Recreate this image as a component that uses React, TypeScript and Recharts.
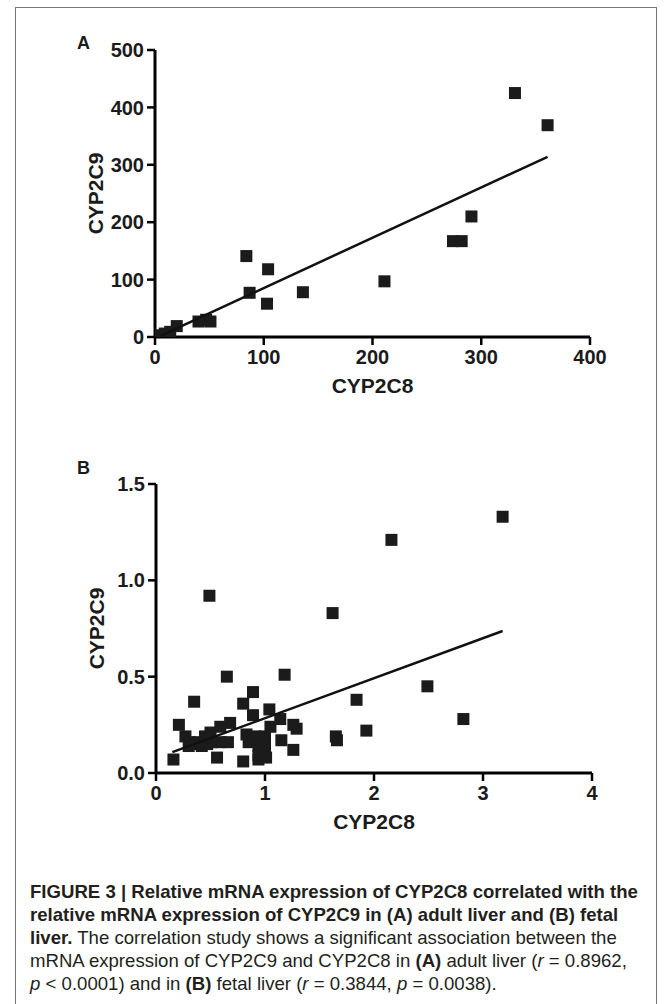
import React from "react";
import { ScatterChart, Scatter, XAxis, YAxis, Label } from "recharts";

// ── Data ─────────────────────────────────────────────────────

// A: adult liver
const adultCyp2c8 = [331, 361, 291, 274, 282, 211, 136, 84, 104, 87, 103, 40, 47, 51, 20, 14, 9, 5, 2];
const adultCyp2c9 = [425, 369, 210, 167, 167, 97, 78, 141, 118, 77, 58, 27, 30, 27, 19, 9, 6, 3, 1];
const adultFitX = [5, 361];
const adultFitY = [2, 314];
const adultXTicks = [0, 100, 200, 300, 400];
const adultYTicks = [0, 100, 200, 300, 400, 500];

// B: fetal liver
const fetalCyp2c8 = [
  3.18, 2.16, 0.49, 1.62, 1.18, 0.65, 2.49, 0.89, 0.35, 0.8,
  1.84, 2.82, 1.93, 1.65, 1.66, 0.21, 1.04, 0.89, 1.14, 1.26,
  1.29, 1.15, 1.26, 1.01, 0.94, 0.8, 0.56, 0.16, 0.68, 0.59,
  0.5, 0.66, 0.59, 0.83, 0.91, 1.0, 1.05, 0.94, 1.0, 0.94,
  0.27, 0.31, 0.36, 0.42, 0.47, 0.51, 0.39, 0.3, 0.45, 0.85,
];
const fetalCyp2c9 = [
  1.33, 1.21, 0.92, 0.83, 0.51, 0.5, 0.45, 0.42, 0.37, 0.36,
  0.38, 0.28, 0.22, 0.19, 0.17, 0.25, 0.33, 0.3, 0.28, 0.25,
  0.23, 0.17, 0.12, 0.08, 0.07, 0.06, 0.08, 0.07, 0.26, 0.24,
  0.21, 0.16, 0.16, 0.2, 0.19, 0.19, 0.24, 0.14, 0.14, 0.09,
  0.19, 0.16, 0.15, 0.14, 0.15, 0.16, 0.16, 0.14, 0.19, 0.16,
];
const fetalFitX = [0.15, 3.18];
const fetalFitY = [0.108, 0.737];
const fetalXTicks = [0, 1, 2, 3, 4];
const fetalYTicks = [0, 0.5, 1.0, 1.5];

// ── Helpers ──────────────────────────────────────────────────

const zip = (xs: number[], ys: number[]) => xs.map((x, i) => ({ x, y: ys[i] }));

const INK = "#1b1b1b";
const FONT = "'Liberation Sans', Arial, sans-serif";

const tickStyle = { fill: INK, fontSize: 20, fontWeight: 700, fontFamily: FONT };
const titleStyle = { fill: INK, fontSize: 21, fontWeight: 700, fontFamily: FONT };

const SquareDot = (props: any) => (
  <rect x={props.cx - 6} y={props.cy - 6} width={12} height={12} fill={INK} />
);

const NoDot = () => <g />;

interface PanelProps {
  top: number;
  height: number;
  margin: { top: number; right: number; left: number; bottom: number };
  points: { x: number; y: number }[];
  fit: { x: number; y: number }[];
  xDomain: [number, number];
  yDomain: [number, number];
  xTicks: number[];
  yTicks: number[];
  yFormat?: (v: number) => string;
}

const Panel: React.FC<PanelProps> = (p) => (
  <div style={{ position: "absolute", left: 0, top: p.top }}>
    <ScatterChart width={669} height={p.height} margin={p.margin}>
      <XAxis
        type="number" dataKey="x" domain={p.xDomain} ticks={p.xTicks}
        height={60} tick={tickStyle} tickSize={8} tickMargin={5}
        axisLine={{ stroke: "#000", strokeWidth: 3 }}
        tickLine={{ stroke: "#000", strokeWidth: 2.5 }}
        interval={0} allowDataOverflow
      >
        <Label value="CYP2C8" position="insideBottom" offset={4} style={titleStyle} />
      </XAxis>
      <YAxis
        type="number" dataKey="y" domain={p.yDomain} ticks={p.yTicks}
        width={75} tick={tickStyle} tickSize={8} tickMargin={3}
        axisLine={{ stroke: "#000", strokeWidth: 3 }}
        tickLine={{ stroke: "#000", strokeWidth: 2.5 }}
        tickFormatter={p.yFormat} interval={0} allowDataOverflow
      >
        <Label value="CYP2C9" position="center" angle={-90} dx={-22} style={titleStyle} />
      </YAxis>
      <Scatter data={p.points} shape={SquareDot} isAnimationActive={false} />
      <Scatter
        data={p.fit} shape={NoDot} line={{ stroke: "#111", strokeWidth: 2.5 }}
        isAnimationActive={false}
      />
    </ScatterChart>
  </div>
);

const letter: React.CSSProperties = {
  position: "absolute", left: 77, fontFamily: FONT, fontWeight: 700,
  fontSize: 18, color: INK, lineHeight: "20px",
};

const captionLine: React.CSSProperties = {
  position: "absolute", left: 30, whiteSpace: "nowrap",
  fontFamily: "'Liberation Sans', Arial, sans-serif",
  fontSize: 18.6, lineHeight: "23px", color: "#231f20",
};

export default function App() {
  return (
    <div style={{ position: "absolute", left: 0, top: 0, width: 669, height: 1004, background: "#fff", overflow: "hidden" }}>
      <div style={{ position: "absolute", left: 15, top: 7, width: 640, height: 1010, border: "1.5px solid #777" }} />
      <div style={{ ...letter, top: 33 }}>A</div>
      <div style={{ ...letter, top: 458 }}>B</div>

      <Panel
        top={0} height={420}
        margin={{ top: 50, right: 79, left: 80, bottom: 23 }}
        points={zip(adultCyp2c8, adultCyp2c9)}
        fit={zip(adultFitX, adultFitY)}
        xDomain={[0, 400]} yDomain={[0, 500]}
        xTicks={adultXTicks} yTicks={adultYTicks}
      />
      <Panel
        top={430} height={430}
        margin={{ top: 54, right: 77, left: 81, bottom: 27 }}
        points={zip(fetalCyp2c8, fetalCyp2c9)}
        fit={zip(fetalFitX, fetalFitY)}
        xDomain={[0, 4]} yDomain={[0, 1.5]}
        xTicks={fetalXTicks} yTicks={fetalYTicks}
        yFormat={(v: number) => v.toFixed(1)}
      />

      <div style={{ ...captionLine, top: 880, fontWeight: 700 }}>
        FIGURE 3 | Relative mRNA expression of CYP2C8 correlated with the
      </div>
      <div style={{ ...captionLine, top: 903, fontWeight: 700 }}>
        relative mRNA expression of CYP2C9 in (A) adult liver and (B) fetal
      </div>
      <div style={{ ...captionLine, top: 926 }}>
        <b>liver.</b> The correlation study shows a significant association between the
      </div>
      <div style={{ ...captionLine, top: 949 }}>
        mRNA expression of CYP2C9 and CYP2C8 in <b>(A)</b> adult liver (<i>r</i> = 0.8962,
      </div>
      <div style={{ ...captionLine, top: 972 }}>
        <i>p</i> &lt; 0.0001) and in <b>(B)</b> fetal liver (<i>r</i> = 0.3844, <i>p</i> = 0.0038).
      </div>
    </div>
  );
}
